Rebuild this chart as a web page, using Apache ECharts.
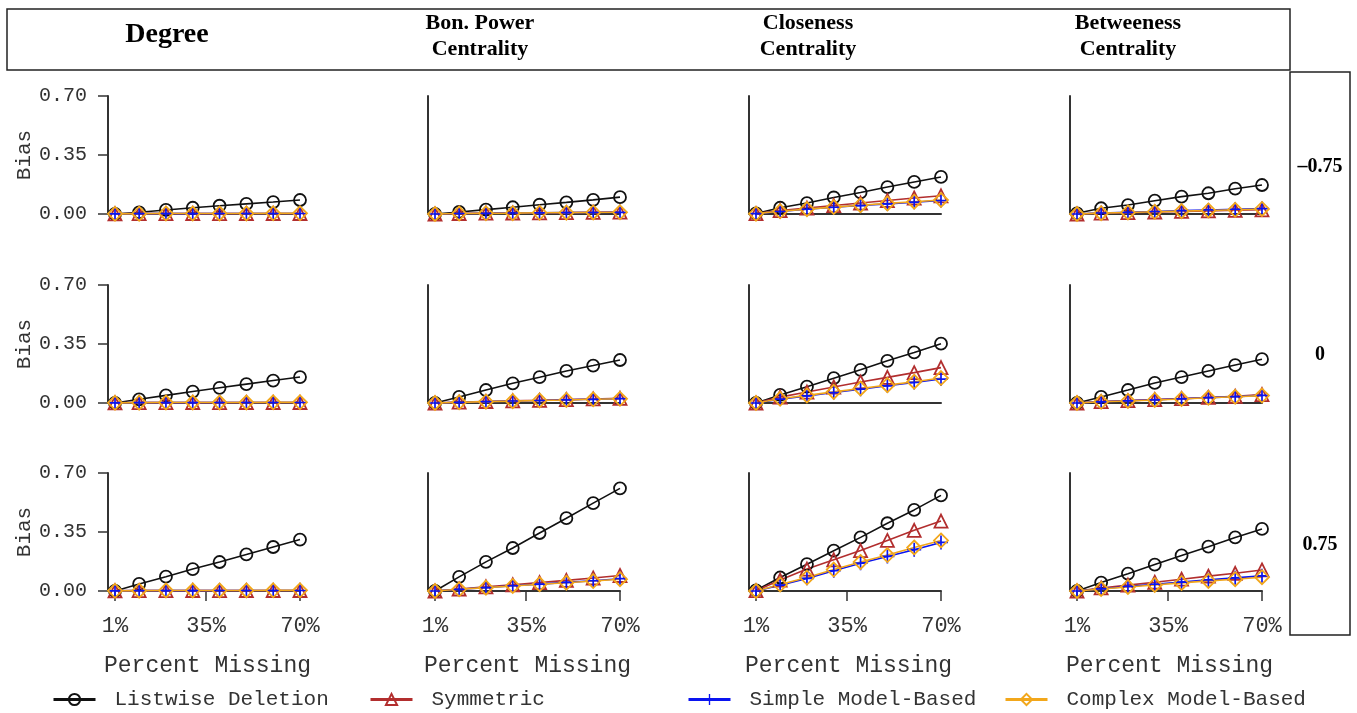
<!DOCTYPE html>
<html><head><meta charset="utf-8">
<script src="https://cdn.jsdelivr.net/npm/echarts@6/dist/echarts.min.js"></script>
<style>html,body{margin:0;padding:0;background:#fff}#c{width:1357px;height:713px}</style>
</head><body><div id="c"></div>
<script>
// ---------- data ----------
const pctMissing = [1, 10, 20, 30, 40, 50, 60, 70];
const xTicks = [1, 35, 70];
const yTicks = [0, 0.35, 0.7];
const methods = ['Listwise Deletion', 'Symmetric', 'Simple Model-Based', 'Complex Model-Based'];
const colLabels = ['Degree', 'Bon. Power\nCentrality', 'Closeness\nCentrality', 'Betweeness\nCentrality'];
const rowLabels = ['\u20130.75', '0', '0.75'];

// each panel: [Listwise, Symmetric, Simple, Complex]
const degree_m075 = [
  [0.000, 0.010, 0.024, 0.037, 0.049, 0.060, 0.071, 0.083],
  [0.001, 0.002, 0.002, 0.003, 0.002, 0.003, 0.003, 0.003],
  [0.001, 0.002, 0.002, 0.002, 0.003, 0.003, 0.003, 0.003],
  [0.001, 0.002, 0.003, 0.003, 0.003, 0.003, 0.004, 0.004]];
const degree_0 = [
  [0.000, 0.022, 0.045, 0.068, 0.090, 0.112, 0.133, 0.154],
  [0.001, 0.002, 0.002, 0.003, 0.002, 0.003, 0.003, 0.003],
  [0.001, 0.002, 0.002, 0.002, 0.003, 0.003, 0.003, 0.003],
  [0.001, 0.002, 0.003, 0.003, 0.003, 0.003, 0.004, 0.004]];
const degree_075 = [
  [0.000, 0.042, 0.085, 0.130, 0.172, 0.217, 0.261, 0.305],
  [0.001, 0.002, 0.002, 0.003, 0.002, 0.003, 0.003, 0.003],
  [0.001, 0.002, 0.002, 0.002, 0.003, 0.003, 0.003, 0.003],
  [0.001, 0.002, 0.003, 0.003, 0.003, 0.003, 0.004, 0.004]];
const bon_m075 = [
  [0.000, 0.012, 0.026, 0.040, 0.055, 0.069, 0.084, 0.100],
  [0.000, 0.003, 0.005, 0.006, 0.007, 0.008, 0.010, 0.011],
  [0.000, 0.003, 0.004, 0.006, 0.007, 0.008, 0.009, 0.010],
  [0.000, 0.003, 0.004, 0.005, 0.007, 0.008, 0.009, 0.010]];
const bon_0 = [
  [0.000, 0.036, 0.077, 0.117, 0.153, 0.190, 0.222, 0.255],
  [0.000, 0.005, 0.009, 0.013, 0.016, 0.020, 0.024, 0.028],
  [0.000, 0.004, 0.008, 0.012, 0.015, 0.019, 0.022, 0.026],
  [0.000, 0.004, 0.008, 0.011, 0.015, 0.018, 0.022, 0.025]];
const bon_075 = [
  [0.000, 0.084, 0.173, 0.255, 0.344, 0.432, 0.521, 0.609],
  [0.000, 0.012, 0.025, 0.037, 0.050, 0.063, 0.077, 0.092],
  [0.000, 0.010, 0.020, 0.031, 0.041, 0.051, 0.061, 0.073],
  [0.000, 0.010, 0.020, 0.030, 0.040, 0.049, 0.059, 0.070]];
const close_m075 = [
  [0.003, 0.037, 0.065, 0.098, 0.128, 0.160, 0.190, 0.220],
  [0.002, 0.020, 0.035, 0.050, 0.065, 0.080, 0.095, 0.108],
  [0.002, 0.015, 0.028, 0.040, 0.050, 0.060, 0.070, 0.080],
  [0.002, 0.016, 0.029, 0.041, 0.052, 0.063, 0.073, 0.083]];
const close_0 = [
  [0.000, 0.048, 0.097, 0.147, 0.197, 0.250, 0.300, 0.352],
  [0.000, 0.035, 0.065, 0.095, 0.125, 0.152, 0.180, 0.210],
  [0.000, 0.023, 0.042, 0.062, 0.082, 0.102, 0.122, 0.142],
  [0.000, 0.025, 0.045, 0.066, 0.086, 0.106, 0.126, 0.148]];
const close_075 = [
  [0.004, 0.080, 0.159, 0.239, 0.318, 0.402, 0.481, 0.567],
  [0.002, 0.065, 0.130, 0.185, 0.240, 0.300, 0.360, 0.415],
  [0.000, 0.035, 0.075, 0.120, 0.165, 0.205, 0.245, 0.288],
  [0.000, 0.038, 0.080, 0.127, 0.172, 0.213, 0.258, 0.300]];
const betw_m075 = [
  [0.004, 0.034, 0.053, 0.079, 0.103, 0.123, 0.150, 0.172],
  [0.000, 0.005, 0.008, 0.012, 0.015, 0.018, 0.022, 0.025],
  [0.000, 0.006, 0.010, 0.015, 0.020, 0.024, 0.028, 0.032],
  [0.000, 0.005, 0.009, 0.013, 0.017, 0.021, 0.025, 0.030]];
const betw_0 = [
  [0.000, 0.036, 0.077, 0.119, 0.154, 0.190, 0.225, 0.260],
  [0.000, 0.008, 0.014, 0.020, 0.026, 0.033, 0.040, 0.050],
  [0.000, 0.007, 0.013, 0.019, 0.025, 0.032, 0.038, 0.045],
  [0.000, 0.007, 0.012, 0.018, 0.024, 0.031, 0.037, 0.044]];
const betw_075 = [
  [0.000, 0.050, 0.103, 0.157, 0.211, 0.263, 0.318, 0.368],
  [0.000, 0.018, 0.035, 0.052, 0.070, 0.088, 0.105, 0.125],
  [0.000, 0.013, 0.027, 0.040, 0.053, 0.066, 0.078, 0.090],
  [0.000, 0.012, 0.024, 0.036, 0.048, 0.060, 0.070, 0.082]];

// panels[row][col]
const panels = [
  [degree_m075, bon_m075, close_m075, betw_m075],
  [degree_0, bon_0, close_0, betw_0],
  [degree_075, bon_075, close_075, betw_075]];

// plot region extent (R-style 4% padding beyond data range) for dotted guides
const xPadRange = [-1.76, 72.76];

// ---------- styling / layout ----------
const colors = ['#111111', '#B22E2E', '#0A14F0', '#F2A71B'];
const symbols = ['circle', 'triangle', 'path://M4.4,0H5.6V10H4.4ZM0,4.4H10V5.6H0Z', 'diamond'];
const symSizes = [12, 13, 14, 14];
const mono = "'Liberation Mono', 'DejaVu Sans Mono', monospace";
const serif = "'Liberation Serif', 'DejaVu Serif', serif";
const gridLefts = [115, 435, 756, 1077];
const gridTops = [96, 285, 473];
const gW = 185, gH = 118;

const grids = [], xAxes = [], yAxes = [], series = [];
let gi = 0;
for (let r = 0; r < 3; r++) {
  for (let c = 0; c < 4; c++) {
    grids.push({left: gridLefts[c], top: gridTops[r], width: gW, height: gH});
    const bottom = r === 2;
    xAxes.push({
      type: 'value', gridIndex: gi, min: 1, max: 70, offset: 4,
      axisLine: {show: true, lineStyle: {color: '#333', width: 2}},
      axisTick: {show: bottom, customValues: xTicks, length: 10, lineStyle: {color: '#333', width: 1.5}},
      axisLabel: {show: bottom, customValues: xTicks, formatter: v => v + '%', margin: 20,
        fontFamily: mono, fontSize: 22, color: '#333'},
      splitLine: {show: false},
      name: bottom ? 'Percent Missing' : '', nameLocation: 'middle', nameGap: 59,
      nameTextStyle: {fontFamily: mono, fontSize: 23, color: '#333'}
    });
    const first = c === 0;
    yAxes.push({
      type: 'value', gridIndex: gi, min: 0, max: 0.7, interval: 0.35, offset: 7,
      axisLine: {show: true, lineStyle: {color: '#333', width: 2}},
      axisTick: {show: first, length: 10, lineStyle: {color: '#333', width: 1.5}},
      axisLabel: {show: first, formatter: v => v.toFixed(2), margin: 21,
        fontFamily: mono, fontSize: 20, color: '#333'},
      splitLine: {show: false},
      name: first ? 'Bias' : '', nameLocation: 'middle', nameGap: 72,
      nameTextStyle: {fontFamily: mono, fontSize: 21, color: '#333'}
    });
    const pdata = panels[r][c];
    for (let m = 0; m < 4; m++) {
      const open = m !== 2;
      const s = {
        type: 'line', name: methods[m], xAxisIndex: gi, yAxisIndex: gi,
        data: pctMissing.map((x, k) => [x, pdata[m][k]]),
        symbol: symbols[m], symbolSize: symSizes[m], showAllSymbol: true,
        clip: false, animation: false, silent: true,
        lineStyle: {color: colors[m], width: 1.6},
        itemStyle: open ? {color: 'rgba(255,255,255,0)', borderColor: colors[m], borderWidth: 1.8}
                        : {color: colors[m], borderWidth: 0},
        z: 3
      };
      if (m === 0) {
        s.markLine = {
          silent: true, animation: false, symbol: ['none', 'none'], label: {show: false},
          lineStyle: {type: [2, 6], color: '#bdbdbd', width: 1.5},
          data: yTicks.slice(1).map(v => [{coord: [xPadRange[0], v]}, {coord: [xPadRange[1], v]}]),
          z: 1
        };
      }
      series.push(s);
    }
    gi++;
  }
}

const legendLefts = [47, 364, 682, 999];
const legends = methods.map((m, i) => ({
  data: [m], left: legendLefts[i], top: 684, itemWidth: 42, itemHeight: 14,
  selectedMode: false,
  lineStyle: {width: 3},
  textStyle: {fontFamily: mono, fontSize: 21, color: '#333', padding: [0, 0, 0, 14]}
}));

const headerX = [167, 480, 808, 1128];
const graphics = [
  {type: 'rect', shape: {x: 7, y: 9, width: 1283, height: 61}, style: {fill: 'none', stroke: '#222', lineWidth: 1.5}},
  {type: 'rect', shape: {x: 1290, y: 72, width: 60, height: 563}, style: {fill: 'none', stroke: '#222', lineWidth: 1.5}}
];
colLabels.forEach((t, i) => graphics.push({
  type: 'text', x: headerX[i], y: i === 0 ? 35 : 36,
  style: {text: t, fill: '#000', font: i === 0 ? 'bold 28px ' + serif : 'bold 22px ' + serif,
    lineHeight: 26, align: 'center', verticalAlign: 'middle'}
}));
const rowLabelY = [167, 355, 545];
rowLabels.forEach((t, i) => graphics.push({
  type: 'text', x: 1320, y: rowLabelY[i],
  style: {text: t, fill: '#000', font: 'bold 20px ' + serif, align: 'center', verticalAlign: 'middle'}
}));

const chart = echarts.init(document.getElementById('c'), null, {renderer: 'canvas'});
chart.setOption({
  animation: false,
  backgroundColor: '#fff',
  grid: grids, xAxis: xAxes, yAxis: yAxes, series: series,
  legend: legends, graphic: graphics
});
</script></body></html>
